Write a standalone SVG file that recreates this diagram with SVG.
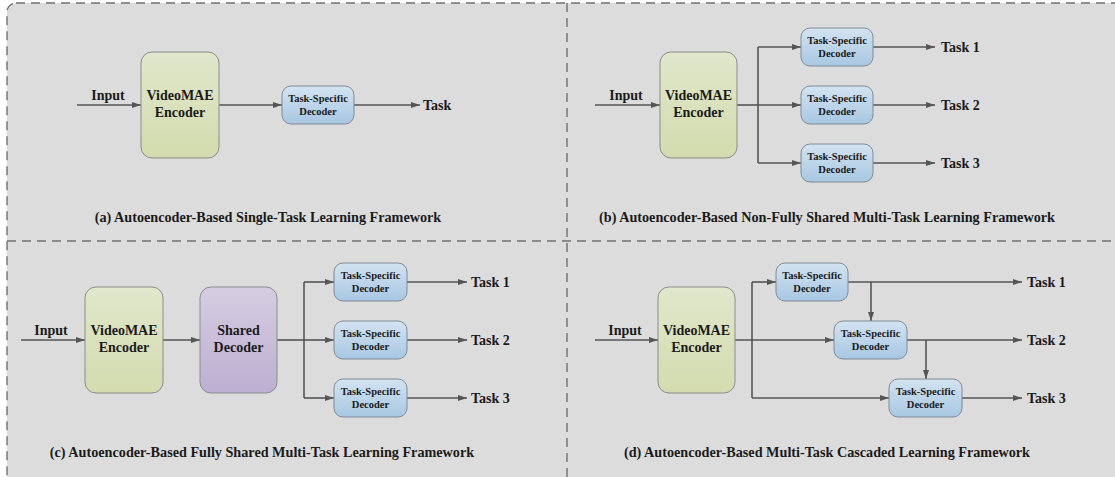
<svg xmlns="http://www.w3.org/2000/svg" width="1115" height="477" viewBox="0 0 1115 477">
<defs>
<linearGradient id="gEnc" x1="0" y1="0" x2="0" y2="1"><stop offset="0" stop-color="#e0e7cb"/><stop offset="1" stop-color="#d3dbae"/></linearGradient>
<linearGradient id="gDec" x1="0" y1="0" x2="0" y2="1"><stop offset="0" stop-color="#d3e3f1"/><stop offset="1" stop-color="#a7c7e2"/></linearGradient>
<linearGradient id="gSh" x1="0" y1="0" x2="0" y2="1"><stop offset="0" stop-color="#d6cde2"/><stop offset="1" stop-color="#bcaed1"/></linearGradient>
<marker id="ah" markerUnits="userSpaceOnUse" markerWidth="9" markerHeight="7" refX="9" refY="3.5" orient="auto"><path d="M0,0.5 L9,3.5 L0,6.5 z" fill="#555"/></marker>
<style>
.frame{fill:#dcdcdc;stroke:#707070;stroke-width:1.4;stroke-dasharray:9 6}
.div{fill:none;stroke:#707070;stroke-width:1.4;stroke-dasharray:9 6}
.enc{fill:url(#gEnc);stroke:#8c8c8c;stroke-width:1}
.sh{fill:url(#gSh);stroke:#8c8c8c;stroke-width:1}
.dec{fill:url(#gDec);stroke:#7f8a94;stroke-width:1}
.ln{fill:none;stroke:#555;stroke-width:1.6}
.ar{fill:none;stroke:#555;stroke-width:1.6;marker-end:url(#ah)}
text{font-family:"Liberation Serif","Times New Roman",serif;font-weight:bold;fill:#1a1a1a}
.big{font-size:14px}
.lbl{font-size:14px}
.small{font-size:10.5px;text-anchor:middle}
.mid{text-anchor:middle}
.cap{font-size:14.2px;text-anchor:middle}
</style>
</defs>
<rect x="0" y="0" width="1115" height="477" fill="#ffffff"/>
<rect class="frame" x="7" y="3" width="1120" height="484" rx="9"/>
<line class="div" x1="7" y1="241" x2="1115" y2="241"/>
<line class="div" x1="567" y1="3" x2="567" y2="477"/>

<g id="connectors">
<line class="ar" x1="77" y1="105" x2="141" y2="105"/>
<line class="ar" x1="219" y1="105" x2="282" y2="105"/>
<line class="ar" x1="354" y1="105" x2="420" y2="105"/>
<line class="ar" x1="595" y1="105" x2="660" y2="105"/>
<line class="ln" x1="737" y1="105" x2="758" y2="105"/>
<line class="ln" x1="758" y1="47" x2="758" y2="163"/>
<line class="ar" x1="758" y1="47" x2="801" y2="47"/>
<line class="ar" x1="758" y1="105" x2="801" y2="105"/>
<line class="ar" x1="758" y1="163" x2="801" y2="163"/>
<line class="ar" x1="873" y1="47" x2="935" y2="47"/>
<line class="ar" x1="873" y1="105" x2="935" y2="105"/>
<line class="ar" x1="873" y1="163" x2="935" y2="163"/>
<line class="ar" x1="21" y1="340" x2="85" y2="340"/>
<line class="ar" x1="163" y1="340" x2="200" y2="340"/>
<line class="ln" x1="277" y1="340" x2="304" y2="340"/>
<line class="ln" x1="304" y1="282" x2="304" y2="398"/>
<line class="ar" x1="304" y1="282" x2="334" y2="282"/>
<line class="ar" x1="304" y1="340" x2="334" y2="340"/>
<line class="ar" x1="304" y1="398" x2="334" y2="398"/>
<line class="ar" x1="407" y1="282" x2="467" y2="282"/>
<line class="ar" x1="407" y1="340" x2="467" y2="340"/>
<line class="ar" x1="407" y1="398" x2="467" y2="398"/>
<line class="ar" x1="595" y1="340" x2="658" y2="340"/>
<line class="ar" x1="735" y1="340" x2="834" y2="340"/>
<line class="ln" x1="752" y1="282" x2="752" y2="398"/>
<line class="ar" x1="752" y1="282" x2="776" y2="282"/>
<line class="ar" x1="752" y1="398" x2="889" y2="398"/>
<line class="ar" x1="848" y1="282" x2="1022" y2="282"/>
<line class="ar" x1="871" y1="282" x2="871" y2="321"/>
<line class="ar" x1="907" y1="340" x2="1022" y2="340"/>
<line class="ar" x1="926" y1="340" x2="926" y2="379"/>
<line class="ar" x1="962" y1="398" x2="1022" y2="398"/>
</g>

<g id="panel-a">
<text class="lbl mid" x="108" y="100">Input</text>
<g id="a-encoder"><rect class="enc" x="141" y="52" width="78" height="106" rx="11"/>
<text class="big mid" x="180" y="100">VideoMAE</text><text class="big mid" x="180" y="117">Encoder</text></g>
<g id="a-decoder"><rect class="dec" x="282" y="86" width="72" height="38" rx="9"/>
<text class="small" x="318" y="102">Task-Specific</text><text class="small" x="318" y="115">Decoder</text></g>
<text class="lbl" x="423" y="110">Task</text>
<text class="cap" x="268" y="222">(a) Autoencoder-Based Single-Task Learning Framework</text>
</g>

<g id="panel-b">
<text class="lbl mid" x="626" y="100">Input</text>
<g id="b-encoder"><rect class="enc" x="660" y="52" width="77" height="106" rx="11"/>
<text class="big mid" x="698.5" y="100">VideoMAE</text><text class="big mid" x="698.5" y="117">Encoder</text></g>
<g id="b-decoder1"><rect class="dec" x="801" y="28" width="72" height="38" rx="9"/>
<text class="small" x="837" y="44">Task-Specific</text><text class="small" x="837" y="57">Decoder</text></g>
<g id="b-decoder2"><rect class="dec" x="801" y="86" width="72" height="38" rx="9"/>
<text class="small" x="837" y="102">Task-Specific</text><text class="small" x="837" y="115">Decoder</text></g>
<g id="b-decoder3"><rect class="dec" x="801" y="144" width="72" height="38" rx="9"/>
<text class="small" x="837" y="160">Task-Specific</text><text class="small" x="837" y="173">Decoder</text></g>
<text class="lbl" x="941" y="52">Task 1</text>
<text class="lbl" x="941" y="110">Task 2</text>
<text class="lbl" x="941" y="168">Task 3</text>
<text class="cap" x="827" y="222">(b) Autoencoder-Based Non-Fully Shared Multi-Task Learning Framework</text>
</g>

<g id="panel-c">
<text class="lbl mid" x="51" y="335">Input</text>
<g id="c-encoder"><rect class="enc" x="85" y="287" width="78" height="106" rx="11"/>
<text class="big mid" x="124" y="335">VideoMAE</text><text class="big mid" x="124" y="352">Encoder</text></g>
<g id="c-shared"><rect class="sh" x="200" y="287" width="77" height="106" rx="11"/>
<text class="big mid" x="238.5" y="335">Shared</text><text class="big mid" x="238.5" y="352">Decoder</text></g>
<g id="c-decoder1"><rect class="dec" x="334" y="263" width="73" height="38" rx="9"/>
<text class="small" x="370.5" y="279">Task-Specific</text><text class="small" x="370.5" y="292">Decoder</text></g>
<g id="c-decoder2"><rect class="dec" x="334" y="321" width="73" height="38" rx="9"/>
<text class="small" x="370.5" y="337">Task-Specific</text><text class="small" x="370.5" y="350">Decoder</text></g>
<g id="c-decoder3"><rect class="dec" x="334" y="379" width="73" height="38" rx="9"/>
<text class="small" x="370.5" y="395">Task-Specific</text><text class="small" x="370.5" y="408">Decoder</text></g>
<text class="lbl" x="471" y="287">Task 1</text>
<text class="lbl" x="471" y="345">Task 2</text>
<text class="lbl" x="471" y="403">Task 3</text>
<text class="cap" x="262" y="457">(c) Autoencoder-Based Fully Shared Multi-Task Learning Framework</text>
</g>

<g id="panel-d">
<text class="lbl mid" x="625" y="335">Input</text>
<g id="d-encoder"><rect class="enc" x="658" y="287" width="77" height="106" rx="11"/>
<text class="big mid" x="696.5" y="335">VideoMAE</text><text class="big mid" x="696.5" y="352">Encoder</text></g>
<g id="d-decoder1"><rect class="dec" x="776" y="263" width="72" height="38" rx="9"/>
<text class="small" x="812" y="279">Task-Specific</text><text class="small" x="812" y="292">Decoder</text></g>
<g id="d-decoder2"><rect class="dec" x="834" y="321" width="73" height="38" rx="9"/>
<text class="small" x="870.5" y="337">Task-Specific</text><text class="small" x="870.5" y="350">Decoder</text></g>
<g id="d-decoder3"><rect class="dec" x="889" y="379" width="73" height="38" rx="9"/>
<text class="small" x="925.5" y="395">Task-Specific</text><text class="small" x="925.5" y="408">Decoder</text></g>
<text class="lbl" x="1027" y="287">Task 1</text>
<text class="lbl" x="1027" y="345">Task 2</text>
<text class="lbl" x="1027" y="403">Task 3</text>
<text class="cap" x="827" y="457">(d) Autoencoder-Based Multi-Task Cascaded Learning Framework</text>
</g>
</svg>
